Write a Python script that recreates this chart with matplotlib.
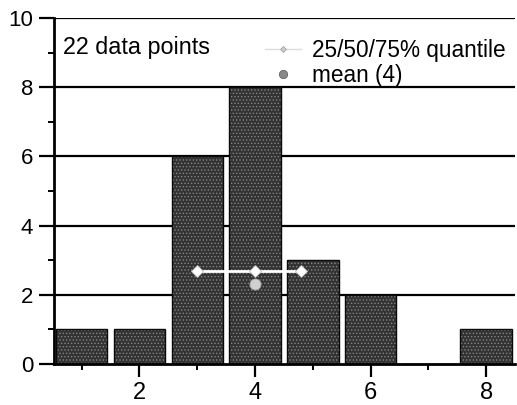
import matplotlib
matplotlib.use("Agg")
import matplotlib.pyplot as plt
from matplotlib.lines import Line2D

plt.rcParams['font.family'] = ['Liberation Sans', 'DejaVu Sans']
plt.rcParams['hatch.linewidth'] = 0.6

# histogram of 22 integer-valued observations
bin_centers = [1, 2, 3, 4, 5, 6, 7, 8]
counts = [1, 1, 6, 8, 3, 2, 0, 1]

# summary statistics
quantiles = [3.0, 4.0, 4.8]   # 25 / 50 / 75 %
quantile_height = 2.7
mean_value = 4.0
mean_height = 2.3

n_points_label = "22 data points"
quantile_label = "25/50/75% quantile"
mean_label = "mean (4)"

x_major = [2, 4, 6, 8]
x_minor = [1, 3, 5, 7]
y_major = [0, 2, 4, 6, 8, 10]
y_minor = [1, 3, 5, 7, 9]

fig = plt.figure(figsize=(5.17, 4.05), dpi=100)
ax = fig.add_axes([54 / 517, 1 - 364 / 405, (515 - 54) / 517, (364 - 18) / 405])

# gridlines behind the bars
for y in y_major[1:]:
    ax.axhline(y, color='black', lw=1.6, zorder=0.5)

# stippled dark bars
ax.bar(bin_centers, counts, width=0.89, color='#333333', edgecolor='#858585',
       hatch='.....', linewidth=0, zorder=2)
ax.bar(bin_centers, counts, width=0.89, fill=False, edgecolor='#0a0a0a',
       linewidth=1.0, zorder=2.1)

# quantile bar and mean
ax.plot(quantiles, [quantile_height] * len(quantiles), color='white', lw=2,
        marker='D', ms=6, mfc='white', mec='#bbbbbb', mew=0.6, zorder=4)
ax.plot([mean_value], [mean_height], 'o', ms=8, mfc='#d0d0d0', mec='#a0a0a0',
        mew=0.6, zorder=4)

ax.set_xlim(0.52, 8.5)
ax.set_ylim(0, 10)
ax.set_xticks(x_major)
ax.set_xticks(x_minor, minor=True)
ax.set_yticks(y_major)
ax.set_yticks(y_minor, minor=True)

ax.tick_params(axis='both', which='major', direction='out', length=11, width=1.6,
               labelsize=16, pad=4, color='black')
ax.tick_params(axis='x', which='major', labelsize=17, length=9, pad=4)
ax.tick_params(axis='both', which='minor', direction='out', length=4, width=1.4)

for side in ('top', 'right'):
    ax.spines[side].set_visible(False)
for side in ('left', 'bottom'):
    ax.spines[side].set_linewidth(2)
    ax.spines[side].set_zorder(5)

ax.text(0.02, 0.915, n_points_label, transform=ax.transAxes, fontsize=16.8,
        va='center', ha='left')

handles = [
    Line2D([], [], color='#dddddd', lw=1, marker='D', ms=3, mfc='#cccccc',
           mec='#999999', mew=0.5),
    Line2D([], [], ls='none', marker='o', ms=6, mfc='#8a8a8a', mec='#555555', mew=0.5),
]
ax.legend(handles, [quantile_label, mean_label], loc='upper right',
          bbox_to_anchor=(1.01, 0.978), frameon=False, fontsize=16.3,
          handlelength=1.6, handletextpad=0.5, labelspacing=0.08,
          borderaxespad=0.2)

fig.savefig("out.png", dpi=100)
